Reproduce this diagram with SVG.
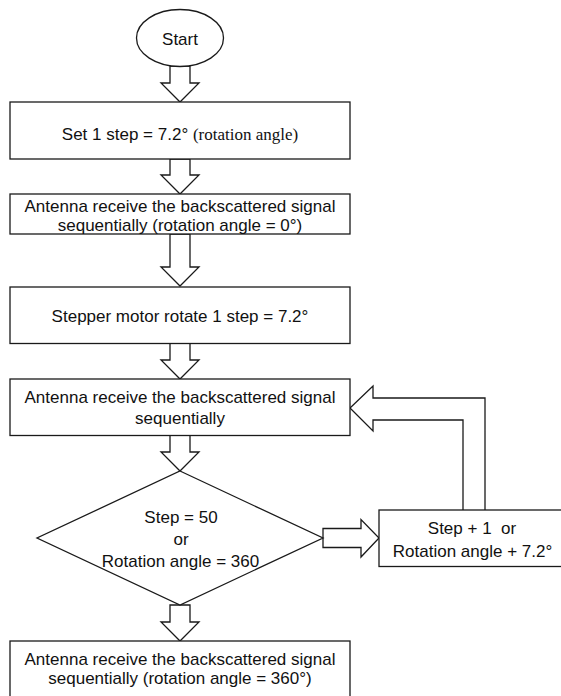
<svg xmlns="http://www.w3.org/2000/svg" width="561" height="696" viewBox="0 0 561 696">
  <style>
    .shape { fill: #ffffff; stroke: #1a1a1a; stroke-width: 1.3; }
    .arrow { fill: #ffffff; stroke: #1a1a1a; stroke-width: 1.3; stroke-linejoin: miter; }
    .label { font-family: "Liberation Sans", Arial, sans-serif; font-size: 17px; fill: #111111; text-anchor: middle; }
    .serif { font-family: "Liberation Serif", "Times New Roman", serif; }
  </style>
  <rect x="0" y="0" width="561" height="696" fill="#ffffff"/>

  <!-- block arrows between steps -->
  <g id="connectors">
    <polygon class="arrow" points="170,66 190,66 190,83 199,83 180,102 161,83 170,83"/>
    <polygon class="arrow" points="170,159 190,159 190,175 199,175 180,194 161,175 170,175"/>
    <polygon class="arrow" points="170,234 190,234 190,267 199,267 180,286 161,267 170,267"/>
    <polygon class="arrow" points="170,343 190,343 190,360 199,360 180,379 161,360 170,360"/>
    <polygon class="arrow" points="170,435 190,435 190,452 199,452 180,471 161,452 170,452"/>
    <polygon class="arrow" points="170,605 190,605 190,622 199,622 180,641 161,622 170,622"/>
    <!-- "no" branch to the increment box -->
    <polygon class="arrow" points="323,528.5 361,528.5 361,519.5 379,538 361,557 361,547.5 323,547.5"/>
    <!-- loop back into the receive step -->
    <polyline class="arrow" points="463,510 463,420 373,420 373,431 350,408 373,386 373,398 485,398 485,510"/>
  </g>

  <g id="start">
    <ellipse class="shape" cx="180" cy="38" rx="43.5" ry="28.5"/>
    <text class="label" x="180" y="45">Start</text>
  </g>

  <g id="set-step">
    <rect class="shape" x="10" y="102" width="340" height="57"/>
    <text class="label" x="180" y="140">Set 1 step = 7.2° <tspan class="serif">(rotation angle)</tspan></text>
  </g>

  <g id="receive-initial">
    <rect class="shape" x="10" y="194" width="340" height="40"/>
    <text class="label" x="180" y="212">Antenna receive the backscattered signal</text>
    <text class="label" x="180" y="230.5">sequentially (rotation angle = 0°)</text>
  </g>

  <g id="rotate">
    <rect class="shape" x="10" y="287" width="340" height="56.5"/>
    <text class="label" x="180" y="321.5">Stepper motor rotate 1 step = 7.2°</text>
  </g>

  <g id="receive-loop">
    <rect class="shape" x="10" y="379" width="340" height="56.5"/>
    <text class="label" x="180" y="403">Antenna receive the backscattered signal</text>
    <text class="label" x="180" y="424">sequentially</text>
  </g>

  <g id="decision">
    <polygon class="shape" points="180,471 323,538 180,605 37,538"/>
    <text class="label" x="181" y="522.5">Step = 50</text>
    <text class="label" x="181" y="545">or</text>
    <text class="label" x="180.5" y="566.5">Rotation angle = 360</text>
  </g>

  <g id="increment">
    <rect class="shape" x="379" y="510" width="200" height="56.5"/>
    <text class="label" x="472" y="534" xml:space="preserve">Step + 1  or</text>
    <text class="label" x="472.5" y="556.5">Rotation angle + 7.2°</text>
  </g>

  <g id="receive-final">
    <rect class="shape" x="10" y="641" width="340" height="70"/>
    <text class="label" x="180" y="665">Antenna receive the backscattered signal</text>
    <text class="label" x="180" y="684">sequentially (rotation angle = 360°)</text>
  </g>
</svg>
